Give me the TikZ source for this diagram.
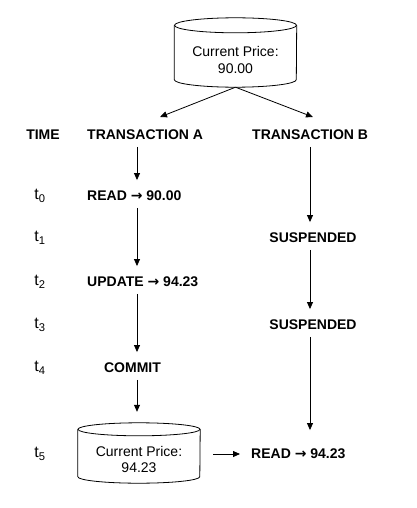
\documentclass[tikz,border=0pt]{standalone}
\usepackage{fontspec}
\setmainfont{Liberation Sans}
\newfontfamily\arrowfont{DejaVu Sans}
\usetikzlibrary{arrows.meta}

\newcommand{\toval}{{\arrowfont\bfseries →}}

\begin{document}
\begin{tikzpicture}
  [
    x = 1pt, y = 1pt,
    lbl/.style = {font = \fontsize{14}{16}\selectfont\bfseries, inner sep = 2pt,
                  text height = 9.5pt, text depth = 0pt},
    tlbl/.style = {font = \fontsize{16}{18}\selectfont, inner sep = 2pt},
    db/.style = {rectangle, minimum width = 122pt, align = center, inner sep = 0pt,
                 font = \fontsize{14}{16.5}\selectfont},
    dbline/.style = {thick},
    arrow/.style = {-{Triangle[length = 7pt, width = 6pt]}, thick,
                    shorten < = 5pt, shorten > = 9pt},
  ]

  \useasboundingbox (0,0) rectangle (417,-508);

  \coordinate (colA) at (137,0);
  \coordinate (colB) at (310,0);

  % databases (node = front face of the cylinder)
  \node[db, minimum height = 54pt] (db1) at (235.5,-60) {Current Price:\\90.00};
  \node[db, minimum height = 47pt] (db2) at (139,-459.5) {Current Price:\\94.23};

  \foreach \db/\ry in {db1/7.5, db2/6.5}
  {
    \draw[dbline] ([yshift = \ry pt]\db.north) ellipse [x radius = 61pt, y radius = \ry pt];
    \draw[dbline] ([yshift = \ry pt]\db.north west) -- ([yshift = \ry pt]\db.south west)
      arc [start angle = 180, end angle = 360, x radius = 61pt, y radius = \ry pt]
      -- ([yshift = \ry pt]\db.north east);
  }

  \node[lbl] (time) at (43,-135) {TIME};
  \node[lbl, anchor = west] (thA) at (85,-135) {TRANSACTION A};
  \node[lbl, anchor = west] (thB) at (250,-135) {TRANSACTION B};

  \coordinate (tipA) at (160,-117);
  \coordinate (tipB) at (313,-117);
  \draw[arrow, shorten < = 0pt, shorten > = 0pt] (db1.south) -- (tipA);
  \draw[arrow, shorten < = 0pt, shorten > = 0pt] (db1.south) -- (tipB);

  % time steps
  \node[tlbl] (t0) at (40,-196) {t\textsubscript{0}};
  \node[tlbl] (t1) at (40,-238) {t\textsubscript{1}};
  \node[tlbl] (t2) at (40,-282) {t\textsubscript{2}};
  \node[tlbl] (t3) at (40,-325) {t\textsubscript{3}};
  \node[tlbl] (t4) at (40,-368) {t\textsubscript{4}};
  \node[tlbl] (t5) at (40,-454) {t\textsubscript{5}};

  % transaction A
  \node[lbl, anchor = west] (readA) at (85,-196) {READ \toval{} 90.00};
  \node[lbl, anchor = west] (updA) at (85,-282) {UPDATE \toval{} 94.23};
  \node[lbl] (commit) at (132.5,-368) {COMMIT};

  % transaction B
  \node[lbl] (susp1) at (313,-238) {SUSPENDED};
  \node[lbl] (susp2) at (313,-325) {SUSPENDED};
  \node[lbl, anchor = west] (readB) at (249,-454) {READ \toval{} 94.23};

  \draw[arrow] (thA.south -| colA) -- (readA.north -| colA);
  \draw[arrow] (readA.south -| colA) -- (updA.north -| colA);
  \draw[arrow] (updA.south -| colA) -- (commit.north -| colA);
  \draw[arrow, shorten > = 24pt] (commit.south -| colA) -- (db2.north -| colA);

  \draw[arrow] (thB.south -| colB) -- (susp1.north -| colB);
  \draw[arrow] (susp1.south -| colB) -- (susp2.north -| colB);
  \draw[arrow, shorten > = 17pt] (susp2.south -| colB) -- (readB.north -| colB);

  \draw[arrow, shorten < = 13pt] (db2.east |- readB.west) -- (readB.west);

\end{tikzpicture}
\end{document}
